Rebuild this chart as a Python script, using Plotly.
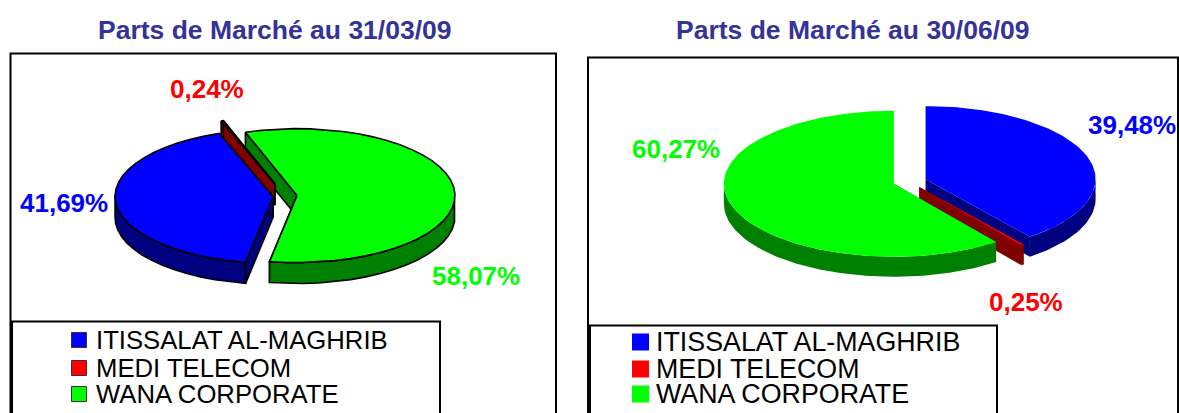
import math
import plotly.graph_objects as go

categories = ["ITISSALAT AL-MAGHRIB", "MEDI TELECOM", "WANA CORPORATE"]
titles = ["Parts de Marché au 31/03/09", "Parts de Marché au 30/06/09"]
shares_mar = [41.69, 0.24, 58.07]
shares_jun = [39.48, 0.25, 60.27]
labels_mar = ["41,69%", "0,24%", "58,07%"]
labels_jun = ["39,48%", "0,25%", "60,27%"]
top_colors = ["#0000FF", "#FF0000", "#00FF00"]
side_colors = ["#000080", "#800000", "#008000"]
TITLE = "#333399"
FONT = "Liberation Sans"


def wedge_traces(c, rx, ry, depth, a0, a1, explode, top, side, line_w, step):
    mid = math.radians((a0 + a1) / 2)
    cx = c[0] + explode * math.cos(mid)
    cy = c[1] - explode * math.sin(mid) * ry / rx
    n = max(2, int(abs(a1 - a0) / step) + 1)
    ang = [math.radians(a0 + (a1 - a0) * i / n) for i in range(n + 1)]
    ex = [cx + rx * math.cos(t) for t in ang]
    ey = [cy - ry * math.sin(t) for t in ang]
    line = dict(color="black", width=line_w) if line_w else dict(color="rgba(0,0,0,0)", width=0)

    def poly(xs, ys, col):
        return go.Scatter(x=xs + xs[:1], y=ys + ys[:1], mode="lines", fill="toself",
                          fillcolor=col, line=line, hoverinfo="skip", showlegend=False)

    out = []
    # radial cut faces
    for i in (0, -1):
        out.append(poly([cx, ex[i], ex[i], cx], [cy, ey[i], ey[i] + depth, cy + depth], side))
    # outer rim, front part only
    run_x, run_y = [], []
    for x, y, t in zip(ex, ey, ang):
        if math.sin(t) <= 0.02:
            run_x.append(x)
            run_y.append(y)
        elif run_x:
            out.append(poly(run_x + run_x[::-1], run_y + [v + depth for v in run_y[::-1]], side))
            run_x, run_y = [], []
    if run_x:
        out.append(poly(run_x + run_x[::-1], run_y + [v + depth for v in run_y[::-1]], side))
    out.append(poly([cx] + ex, [cy] + ey, top))
    return out


def pie_traces(shares, start, c, rx, ry, depth, explode, order, line_w, step):
    spans = []
    a = start
    for s in shares:
        spans.append((a, a - s * 3.6))
        a -= s * 3.6
    res = []
    for i in order:
        res += wedge_traces(c, rx, ry, depth, spans[i][0], spans[i][1], explode[i],
                            top_colors[i], side_colors[i], line_w, step)
    return res


fig = go.Figure()
for t in pie_traces(shares_mar, 260, (285, 196), 158, 67, 21, [12, 30, 12], [2, 1, 0], 1.6, 6):
    fig.add_trace(t)
for t in pie_traces(shares_jun, 90, (909.5, 181.5), 170, 73, 20, [17, 16, 16.5], [0, 1, 2], 0, 1.5):
    fig.add_trace(t)


def text(x, y, s, color, size, bold=False, anchor="center", bg=None):
    fig.add_annotation(x=x, y=y, xref="x", yref="y", text=f"<b>{s}</b>" if bold else s,
                       showarrow=False, xanchor=anchor, yanchor="middle",
                       font=dict(family=FONT, size=size, color=color),
                       bgcolor=bg, borderpad=0)


def box(x0, y0, x1, y1, w=2, fill=None):
    fig.add_shape(type="rect", x0=x0, y0=y0, x1=x1, y1=y1, xref="x", yref="y",
                  line=dict(color="black", width=w), fillcolor=fill, layer="below")


box(10.5, 53.5, 556, 430)
box(588, 57.5, 1178, 430)
box(12, 321.5, 440, 430, fill="white")
box(590, 325.5, 997, 430, fill="white")

text(274.5, 30, titles[0], TITLE, 26.5, True)
text(853, 30, titles[1], TITLE, 26.5, True)

for x, y, s, col in [(63.5, 203, labels_mar[0], top_colors[0]), (207, 89, labels_mar[1], top_colors[1]),
                     (476, 276, labels_mar[2], top_colors[2]),
                     (676, 149, labels_jun[2], top_colors[2]), (1026, 302, labels_jun[1], top_colors[1])]:
    text(x, y, s, col, 26, True)
text(1131.5, 125, labels_jun[0], top_colors[0], 26, True, bg="white")

for mx, tx, ys, size, fs in [(79, 95, [340, 368, 394], 15, 25.7), (640.5, 655, [342, 369, 394], 17, 26.8)]:
    fig.add_trace(go.Scatter(x=[mx] * 3, y=ys, mode="markers", hoverinfo="skip", showlegend=False,
                             marker=dict(symbol="square", size=size, color=top_colors,
                                         line=dict(color="#333333", width=1 if mx < 100 else 0))))
    for y, s in zip(ys, categories):
        text(tx, y, s, "black", fs, anchor="left")

fig.update_layout(width=1179, height=413, margin=dict(l=0, r=0, t=0, b=0), autosize=False,
                  paper_bgcolor="white", plot_bgcolor="white", showlegend=False,
                  xaxis=dict(range=[0, 1179], visible=False, fixedrange=True),
                  yaxis=dict(range=[413, 0], visible=False, fixedrange=True))
fig.write_html("out.html", post_script="document.body.style.margin='0';document.body.style.overflow='hidden';",
               config=dict(displayModeBar=False))
